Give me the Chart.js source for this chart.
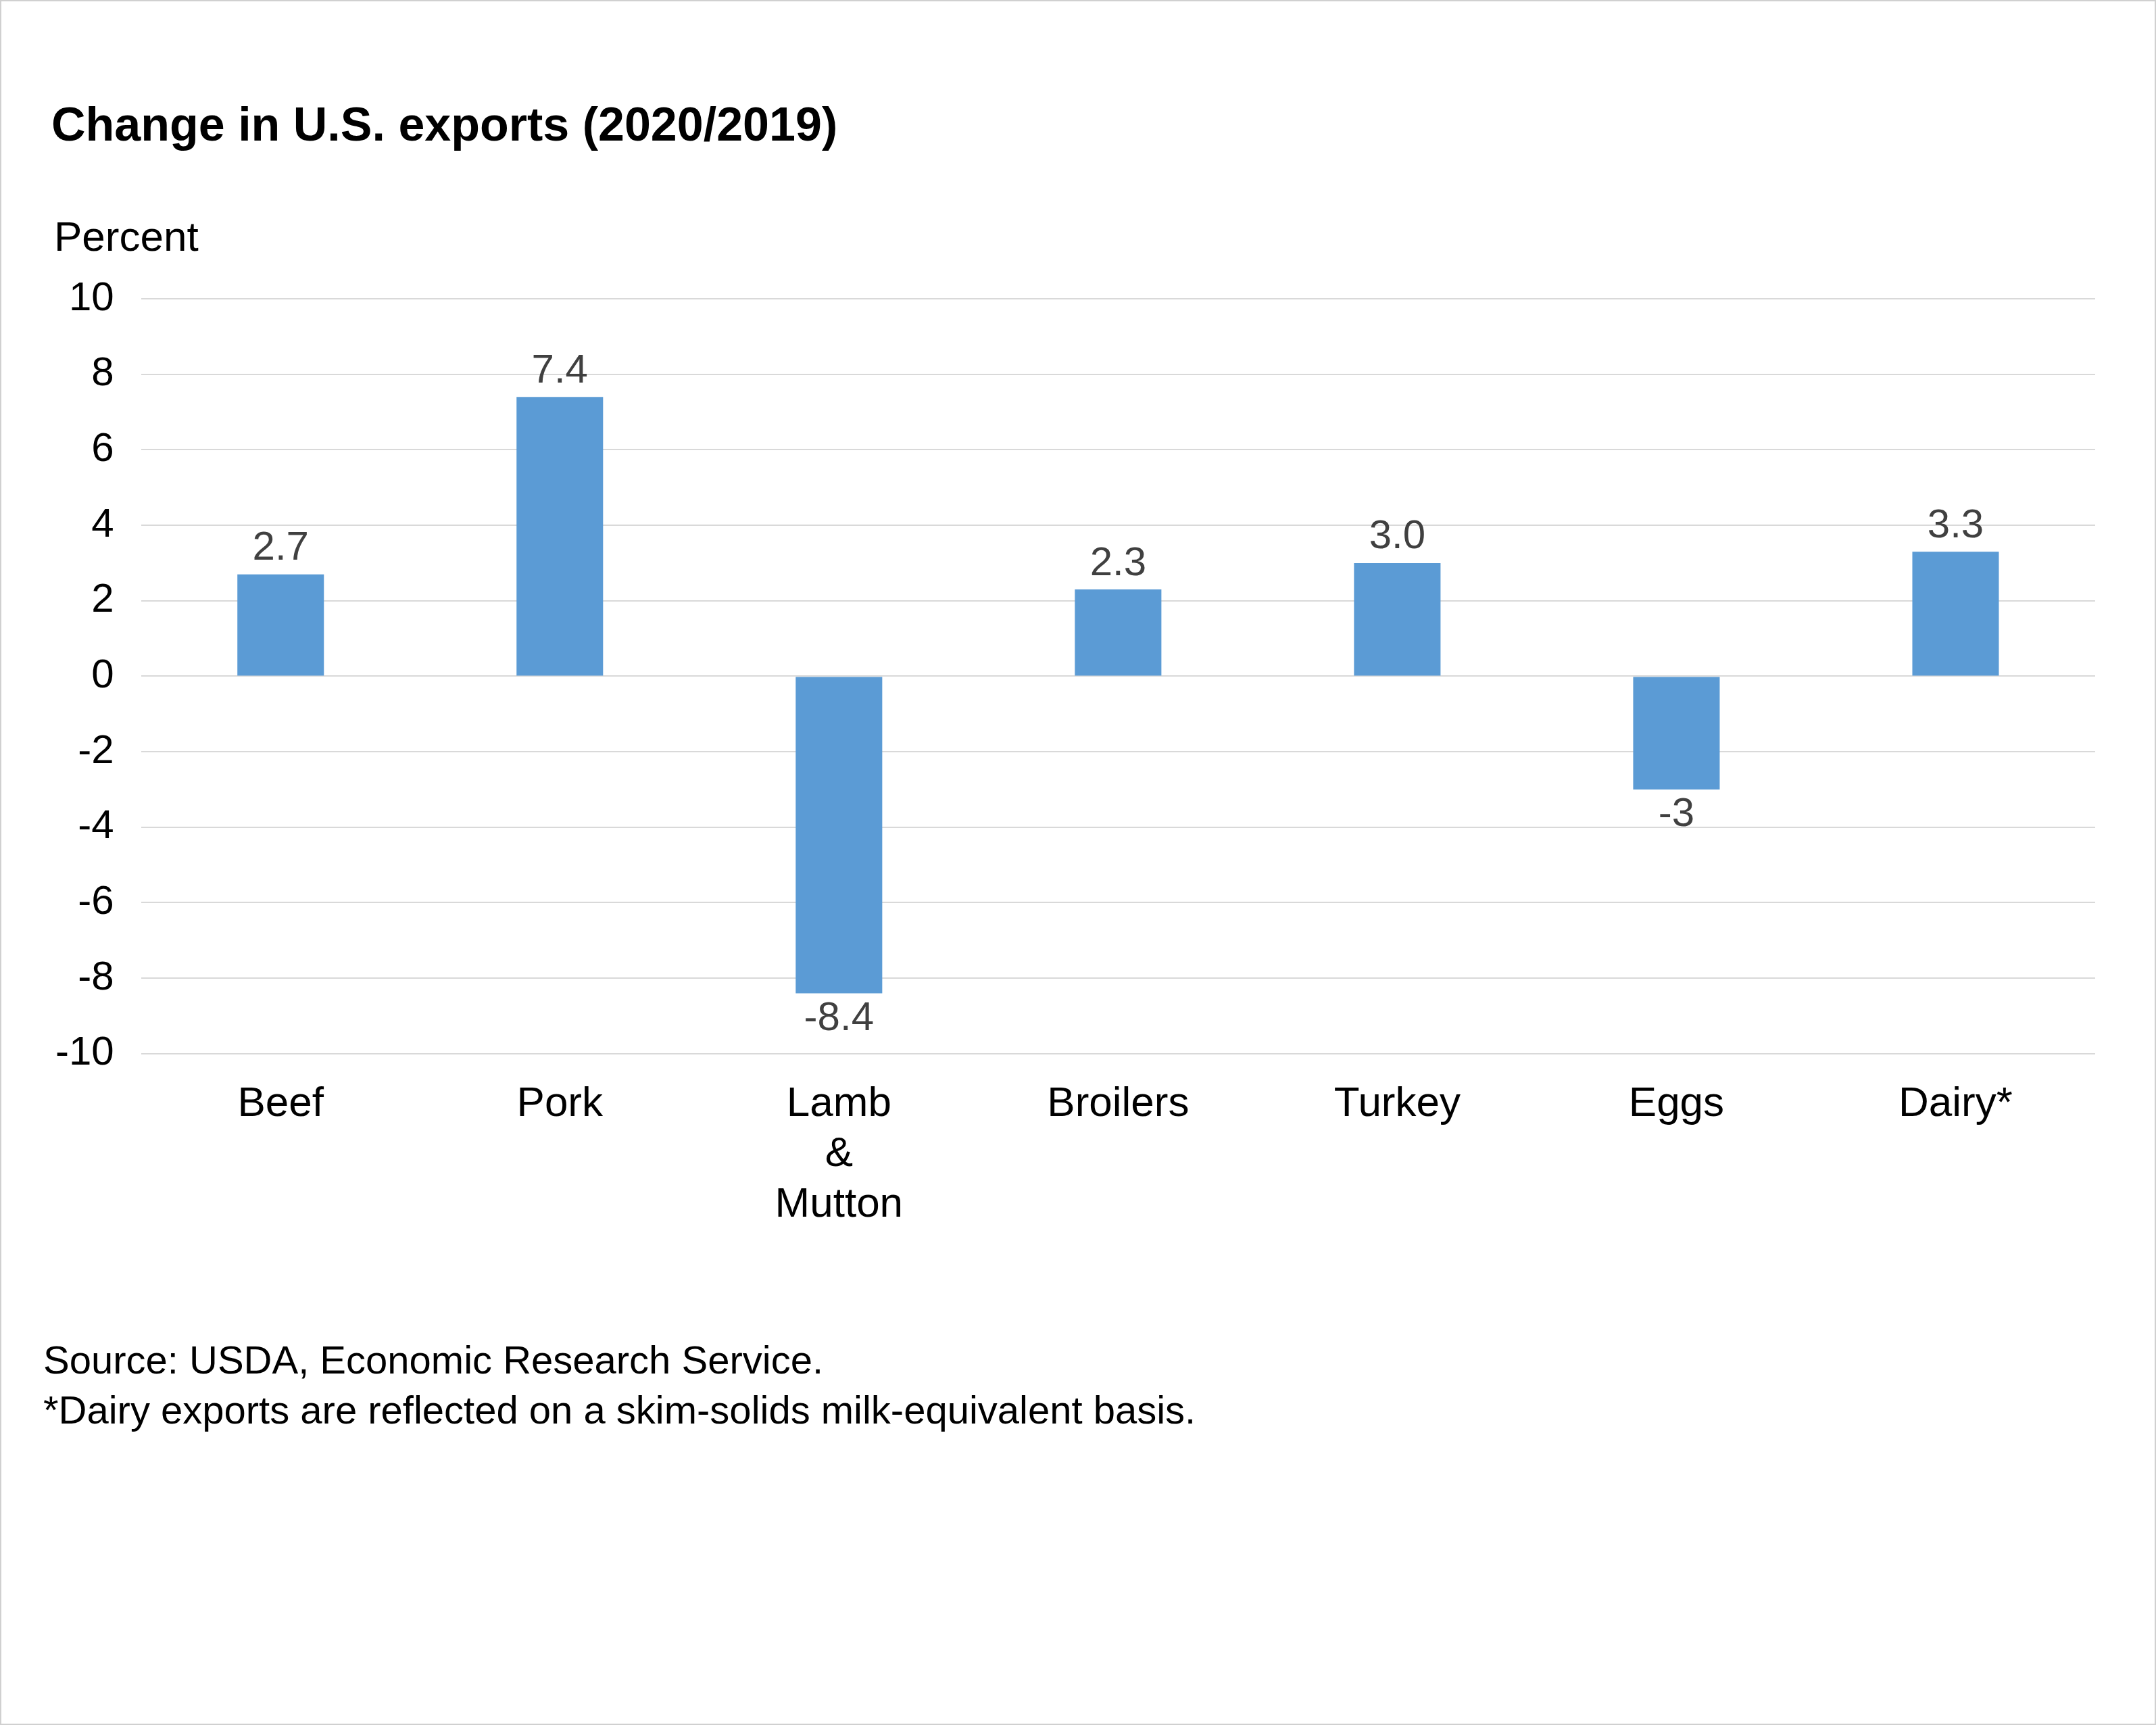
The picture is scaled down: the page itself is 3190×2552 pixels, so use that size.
<!DOCTYPE html>
<html><head><meta charset="utf-8">
<script src="https://cdn.jsdelivr.net/npm/chart.js@4"></script>
<style>html,body{margin:0;padding:0;background:#fff}#w{width:3190px;height:2552px;position:relative;box-sizing:border-box;border:2px solid #d0d0d0}canvas{display:block}</style>
</head><body><div id="w"><canvas id="c" width="3186" height="2548"></canvas></div>
<script>
const categories = ["Beef","Pork",["Lamb","&","Mutton"],"Broilers","Turkey","Eggs","Dairy*"];
const values = [2.7, 7.4, -8.4, 2.3, 3.0, -3.0, 3.3];
const valueLabels = ["2.7","7.4","-8.4","2.3","3.0","-3","3.3"];
const FONT = "'Liberation Sans', Arial, sans-serif";
const textPlugin = {
  id:'txt',
  afterDraw(chart){
    const ctx = chart.ctx; ctx.save();
    ctx.fillStyle='#000'; ctx.textBaseline='middle'; ctx.textAlign='left';
    ctx.font = "bold 70px "+FONT; ctx.fillText("Change in U.S. exports (2020/2019)", 74, 187);
    ctx.font = "62px "+FONT; ctx.fillText("Percent", 78, 352);
    ctx.font = "58px "+FONT;
    ctx.fillText("Source: USDA, Economic Research Service.", 62, 2014);
    ctx.fillText("*Dairy exports are reflected on a skim-solids milk-equivalent basis.", 62, 2088);
    const meta = chart.getDatasetMeta(0);
    ctx.fillStyle='#404040'; ctx.font="60px "+FONT; ctx.textAlign='center';
    meta.data.forEach((b,i)=>{
      if(values[i]>=0){ctx.textBaseline='bottom'; ctx.fillText(valueLabels[i], b.x, b.y-8);}
      else {ctx.textBaseline='top'; ctx.fillText(valueLabels[i], b.x, b.y+8);}
    });
    ctx.restore();
  }
};
new Chart(document.getElementById('c'),{
  type:'bar',
  data:{labels:categories,datasets:[{data:values,backgroundColor:'#5B9BD5',barPercentage:0.31,categoryPercentage:1}]},
  options:{
    responsive:false, animation:false, devicePixelRatio:1,
    layout:{padding:{left:40,right:88,top:440,bottom:700}},
    plugins:{legend:{display:false},tooltip:{enabled:false}},
    scales:{
      y:{min:-10,max:10,ticks:{stepSize:2,color:'#000',font:{size:60,family:FONT},padding:40},
         grid:{color:'#d9d9d9',lineWidth:2,drawTicks:false},border:{display:false}},
      x:{ticks:{color:'#000',font:{size:62,family:FONT},padding:30,maxRotation:0},
         grid:{display:false},border:{display:false}}
    }
  },
  plugins:[textPlugin]
});
</script>
</body></html>
